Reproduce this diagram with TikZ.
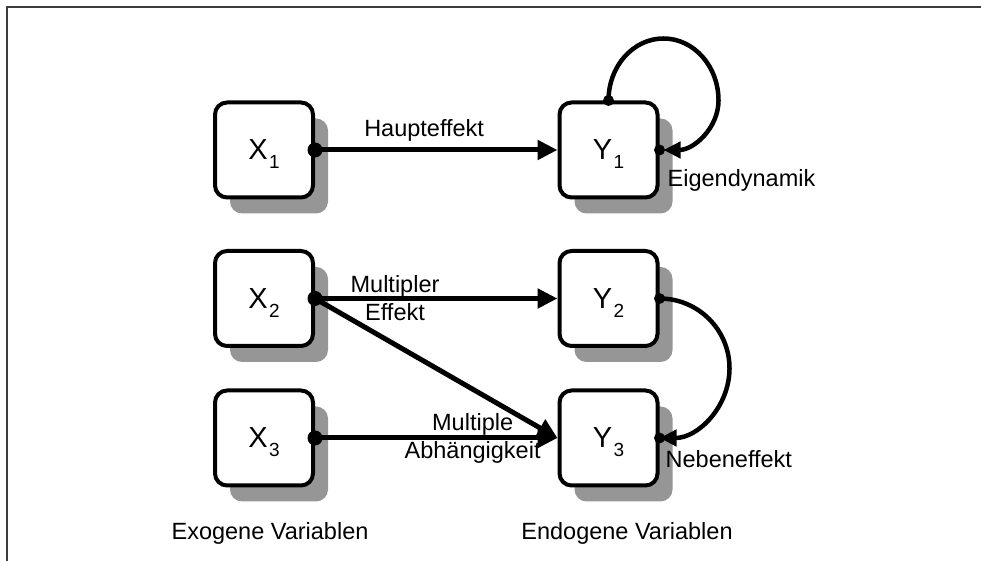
\documentclass[tikz,border=0pt]{standalone}
\usepackage{fontspec}
\setmainfont{Liberation Sans}
\usepackage{xcolor}
\usetikzlibrary{arrows.meta}
\usetikzlibrary{shadows}
\usetikzlibrary{positioning}
\definecolor{shadowgray}{RGB}{150,150,150}
\definecolor{framegray}{RGB}{60,60,60}
\newcommand{\subvar}[2]{#1\kern1.5pt\raisebox{-9pt}[0pt][0pt]{\fontsize{19}{19}\selectfont #2}}

\begin{document}
\begin{tikzpicture}[x=1pt,y=1pt,
  varbox/.style={draw,line width=4pt,rounded corners=12pt,fill=white,
    minimum width=98pt,minimum height=95pt,font=\fontsize{29}{32}\selectfont,
    drop shadow={shadow xshift=15pt,shadow yshift=-16pt,fill=shadowgray,opacity=1}},
  effect/.style={line width=5pt,-{Triangle[length=20pt,width=19pt]}},
  feedback/.style={line width=4.5pt,-{Triangle[length=17pt,width=16pt]}},
  lbl/.style={inner sep=0pt,font=\fontsize{23.5}{28}\selectfont,align=center}]
\useasboundingbox (0,0) rectangle (981,561);
\draw[line width=2pt,framegray] (7,0) -- (7,554) -- (981,554);

\node[varbox] (X1) at (264,411) {\subvar{X}{1}};
\node[varbox] (Y1) at (608.5,411) {\subvar{Y}{1}};
\node[varbox] (X2) at (264,262.5) {\subvar{X}{2}};
\node[varbox] (Y2) at (608.5,262.5) {\subvar{Y}{2}};
\node[varbox] (X3) at (264,123) {\subvar{X}{3}};
\node[varbox] (Y3) at (608.5,123) {\subvar{Y}{3}};

\fill (X1.east) circle (7.5);
\draw[effect] (X1.east) -- node[lbl,above=6pt,pos=0.45] {Haupteffekt} (Y1.west);
\fill (X2.east) circle (7.5);
\draw[effect] (X2.east) -- node[lbl,pos=0.33] {Multipler\\Effekt} (Y2.west);
\draw[effect] (X2.east) -- (Y3.west);
\fill (X3.east) circle (7.5);
\draw[effect] (X3.east) -- node[lbl,pos=0.65] {Multiple\\Abhängigkeit} (Y3.west);

\fill (Y1.north) circle (5.5);
\fill (Y1.east) circle (5.5);
\draw[feedback] (Y1.north) arc[start angle=180,end angle=0,x radius=55,y radius=62]
  arc[start angle=0,end angle=-90,x radius=55,y radius=49.5];
\fill (Y2.east) circle (5.5);
\fill (Y3.east) circle (5.5);
\draw[feedback] (Y2.east) arc[start angle=90,end angle=-90,x radius=70,y radius=69.75];

\node[lbl,anchor=base west] (eigen) at ([shift={(8pt,-37pt)}]Y1.east) {Eigendynamik};
\node[lbl,anchor=base west] (neben) at ([shift={(6pt,-30pt)}]Y3.east) {Nebeneffekt};
\node[lbl,anchor=base] (exo) at (270,21) {Exogene Variablen};
\node[lbl,anchor=base] (endo) at (627,21) {Endogene Variablen};
\end{tikzpicture}
\end{document}
